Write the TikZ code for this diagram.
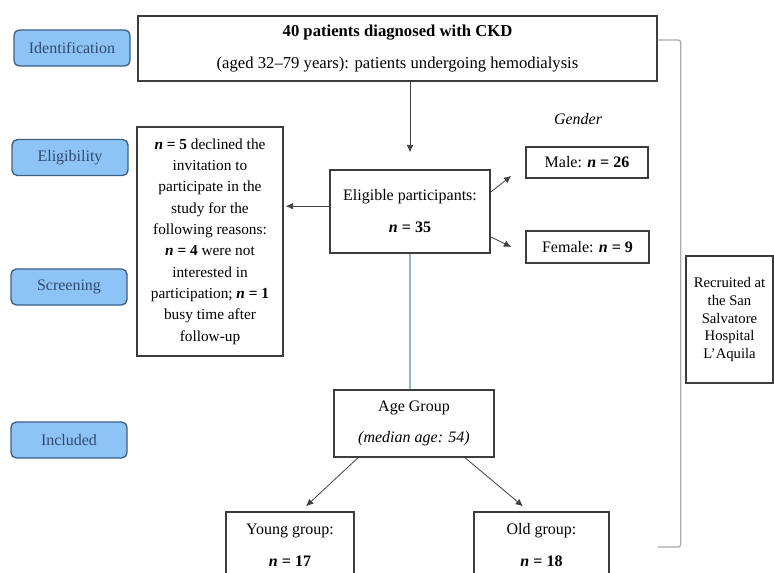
\documentclass[tikz,border=0pt]{standalone}
\usepackage{fontspec}
\setmainfont{Liberation Serif}
\usetikzlibrary{arrows.meta, calc}
\definecolor{stageblue}{RGB}{142,196,245}
\definecolor{stageline}{RGB}{60,95,135}
\definecolor{stagetext}{RGB}{45,75,115}
\definecolor{boxline}{RGB}{60,60,60}
\definecolor{bracketgrey}{RGB}{170,170,170}
\definecolor{linkblue}{RGB}{150,180,210}

\begin{document}
\begin{tikzpicture}[x=0.75pt, y=-0.75pt,
    stage/.style={draw=stageline, fill=stageblue, rounded corners=4pt, line width=1pt, text=stagetext, minimum width=87pt, minimum height=27pt, inner sep=0pt, font=\fontsize{12}{14}\selectfont},
    flowbox/.style={draw=boxline, line width=1.1pt, inner sep=0pt, align=center, font=\fontsize{12}{14}\selectfont},
    arr/.style={-{Latex[length=5.5pt,width=5pt]}, line width=0.6pt, draw=black!75},
    ]
        \useasboundingbox (0,0) rectangle (774,572);
        \clip (0,0) rectangle (774,572);

        \node[stage] (identlab) at (72,48) {Identification};
        \node[stage] (eliglab) at (70,157.5) {Eligibility};
        \node[stage] (screenlab) at (69,287) {Screening};
        \node[stage] (incllab) at (69,440) {Included};

        \node[flowbox, minimum width=389.25pt, minimum height=48.75pt, font=\fontsize{12.5}{14}\selectfont] (patients) at (397.5,48.5) {\textbf{40 patients diagnosed with CKD}\\[10pt](aged 32--79 years): patients undergoing hemodialysis};
        \node[flowbox, minimum width=109.5pt, minimum height=171.75pt, font=\fontsize{11.5}{16}\selectfont] (declined) at (210,241.5) {\textbf{\textit{n} = 5} declined the\\invitation to\\participate in the\\study for the\\following reasons:\\\textbf{\textit{n} = 4} were not\\interested in\\participation; \textbf{\textit{n} = 1}\\busy time after\\follow-up};
        \node[flowbox, minimum width=120pt, minimum height=62.25pt] (elig) at (410,211.5) {Eligible participants:\\[10pt]\textbf{\textit{n} = 35}};
        \node[font=\itshape\fontsize{12}{14}\selectfont] (gender) at (578,119) {Gender};
        \node[flowbox, minimum width=91.5pt, minimum height=23.25pt] (male) at (587,162.5) {Male: \textbf{\textit{n} = 26}};
        \node[flowbox, minimum width=92.25pt, minimum height=24pt] (female) at (587.5,247) {Female: \textbf{\textit{n} = 9}};
        \node[flowbox, minimum width=65.25pt, minimum height=95.25pt, font=\fontsize{11}{13.3}\selectfont] (recruited) at (729.5,319.5) {Recruited at\\the San\\Salvatore\\Hospital\\L'Aquila};
        \node[flowbox, minimum width=120pt, minimum height=50.25pt] (age) at (414,423.5) {Age Group\\[9pt]\textit{(median age: 54)}};
        \node[flowbox, minimum width=96pt, minimum height=49.5pt] (young) at (290,545) {Young group:\\[10pt]\textbf{\textit{n} = 17}};
        \node[flowbox, minimum width=101.25pt, minimum height=49.5pt] (old) at (541.5,545) {Old group:\\[10pt]\textbf{\textit{n} = 18}};

        \draw[arr, shorten >=12.75pt] (elig.north |- patients.south) -- (elig.north);
        \draw[arr, shorten >=1.5pt] ([yshift=4pt]elig.west) -- ([yshift=4pt]elig.west -| declined.east);
        \draw[arr] ([yshift=14.6pt]elig.east) -- ([xshift=-10.5pt,yshift=-10pt]male.west);
        \draw[arr] ([yshift=-19pt]elig.east) -- ([xshift=-10.5pt]female.west);
        \draw[linkblue, line width=0.8pt] (elig.south) -- (elig.south |- age.north);
        \draw[arr] ([xshift=-42pt]age.south) -- ([xshift=12pt,yshift=3.75pt]young.north);
        \draw[arr] ([xshift=38.25pt]age.south) -- ([xshift=-13.9pt,yshift=3.75pt]old.north);

        \coordinate (brtop) at ([yshift=6.4pt]patients.east);
        \coordinate (brbot) at (658,547);
        \draw[bracketgrey, line width=1pt, rounded corners=2pt] (brtop) -- ++(17.25pt,0) |- (brbot);
    \end{tikzpicture}
\end{document}
